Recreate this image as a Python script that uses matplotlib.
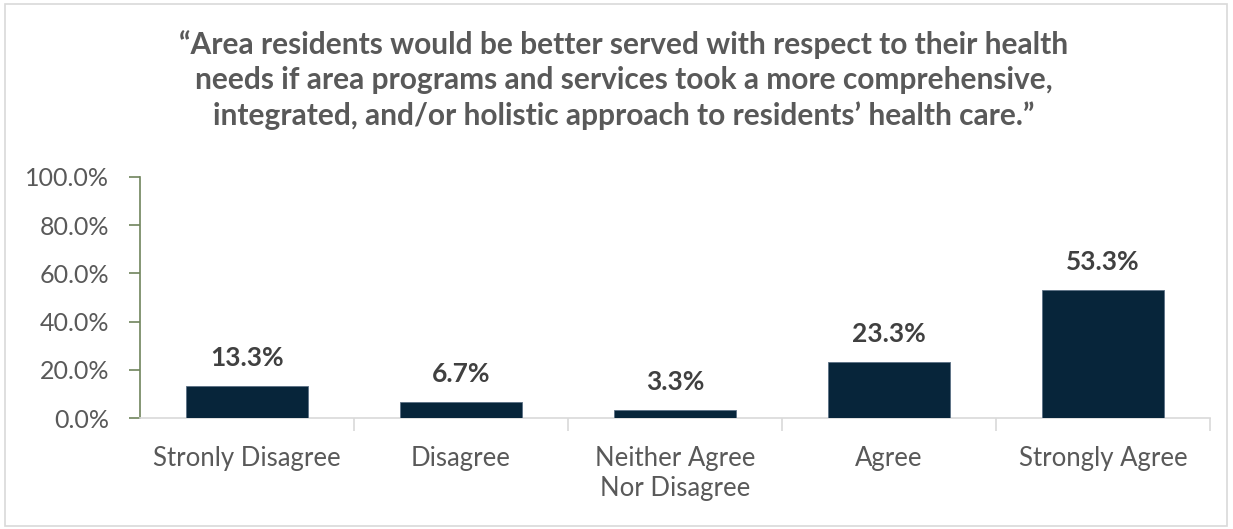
import matplotlib.pyplot as plt
from matplotlib.patches import Rectangle

plt.rcParams['font.family'] = ['Lato', 'DejaVu Sans']

categories = ['Stronly Disagree', 'Disagree', 'Neither Agree\nNor Disagree',
              'Agree', 'Strongly Agree']
values = [13.3, 6.7, 3.3, 23.3, 53.3]
yticks = [0, 20, 40, 60, 80, 100]

title = ('\u201cArea residents would be better served with respect to their health\n'
         'needs if area programs and services took a more comprehensive,\n'
         'integrated, and/or holistic approach to residents\u2019 health care.\u201d')

fig = plt.figure(figsize=(12.33, 5.29), dpi=100)
ax = fig.add_axes([140 / 1233, 1 - 418 / 529, 1070 / 1233, 241 / 529])

# light frame round the whole chart
fig.patches.append(Rectangle((5 / 1233, 3 / 529), 1222 / 1233, 522 / 529,
                             transform=fig.transFigure, fill=False,
                             edgecolor='#D9D9D9', linewidth=1.2))

x = range(len(categories))
ax.bar(x, values, width=0.57, color='#07253A', edgecolor='#5B7085', linewidth=0.6, zorder=3)

for xi, v in zip(x, values):
    ax.annotate(f'{v:.1f}%', (xi, v), xytext=(0, 20), textcoords='offset points',
                ha='center', va='center', fontsize=19, fontweight='bold', color='#404040')

ax.set_xlim(-0.5, len(categories) - 0.5)
ax.set_ylim(0, 100)
ax.set_yticks(yticks)
ax.set_yticklabels([f'{t:.1f}%' for t in yticks])
ax.tick_params(axis='y', direction='out', length=8, width=1.2, color='#70845C',
               labelsize=18, labelcolor='#595959', pad=14)

ax.set_xticks(x)
ax.set_xticklabels(categories, linespacing=1.25)
ax.tick_params(axis='x', length=0, labelsize=18.5, labelcolor='#595959', pad=20)
ax.set_xticks([i + 0.5 for i in range(len(categories))], minor=True)
ax.tick_params(axis='x', which='minor', length=9, width=1.2, color='#D9D9D9')

for s in ['top', 'right']:
    ax.spines[s].set_visible(False)
ax.spines['left'].set_color('#70845C')
ax.spines['left'].set_linewidth(1.2)
ax.spines['bottom'].set_color('#D9D9D9')
ax.spines['bottom'].set_linewidth(1.2)

fig.text(0.506, 1 - 80 / 529, title, ha='center', va='center', fontsize=21.5,
         fontweight='bold', color='#595959', linespacing=1.32)

fig.savefig('out.png', dpi=100)
